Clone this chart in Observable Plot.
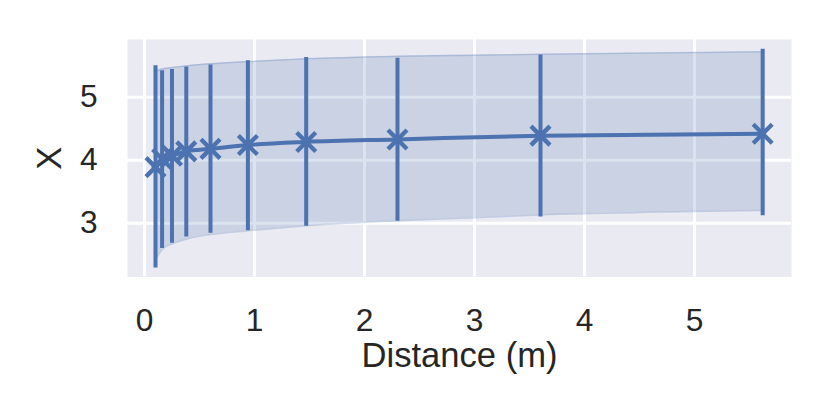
<!DOCTYPE html>
<html>
<head>
<meta charset="utf-8">
<script src="https://cdn.jsdelivr.net/npm/d3@7"></script>
<script src="https://cdn.jsdelivr.net/npm/@observablehq/plot@0.6"></script>
<style>
  html, body { margin: 0; padding: 0; background: #ffffff; }
  #chart { width: 830px; height: 415px; }
</style>
</head>
<body>
<div id="chart"></div>
<script>
// Measurement points (distance in m)
const distances = [0.10, 0.16, 0.25, 0.38, 0.60, 0.94, 1.47, 2.30, 3.60, 5.62];
const means     = [3.89, 4.02, 4.07, 4.14, 4.18, 4.24, 4.29, 4.33, 4.39, 4.42];
const errLow    = [2.29, 2.60, 2.68, 2.78, 2.84, 2.88, 2.95, 3.03, 3.10, 3.12];
const errHigh   = [5.50, 5.42, 5.44, 5.48, 5.51, 5.58, 5.63, 5.62, 5.67, 5.76];

// Shaded band
const bandX     = [0.115, 0.16, 0.25, 0.39, 0.60, 0.94, 1.47, 2.30, 3.60, 5.62];
const bandLow   = [2.46, 2.58, 2.67, 2.75, 2.82, 2.88, 2.96, 3.04, 3.13, 3.20];
const bandHigh  = [5.42, 5.45, 5.47, 5.50, 5.53, 5.565, 5.61, 5.65, 5.68, 5.72];

const xTicks = [0, 1, 2, 3, 4, 5];
const yTicks = [3, 4, 5];
const xLabel = "Distance (m)";
const yLabel = "X";

const points = distances.map((d, i) => ({x: d, y: means[i], lo: errLow[i], hi: errHigh[i]}));
const band = bandX.map((d, i) => ({x: d, lo: bandLow[i], hi: bandHigh[i]}));

const blue = "#4c72b0";
const ink = "#262626";

const chart = Plot.plot({
  width: 830,
  height: 415,
  marginLeft: 127,
  marginRight: 39,
  marginTop: 39,
  marginBottom: 138.5,
  style: {fontFamily: "'Liberation Sans', Arial, sans-serif", fontSize: "31.7px", color: ink, background: "#ffffff"},
  x: {domain: [-0.1545, 5.882]},
  y: {domain: [2.146, 5.916]},
  marks: [
    Plot.frame({fill: "#eaeaf2", stroke: null}),
    Plot.gridX(xTicks, {stroke: "#ffffff", strokeOpacity: 1, strokeWidth: 3}),
    Plot.gridY(yTicks, {stroke: "#ffffff", strokeOpacity: 1, strokeWidth: 3}),
    Plot.areaY(band, {x: "x", y1: "lo", y2: "hi", curve: "monotone-x", fill: blue, fillOpacity: 0.2}),
    Plot.lineY(band, {x: "x", y: "hi", curve: "monotone-x", stroke: blue, strokeOpacity: 0.25, strokeWidth: 1.5}),
    Plot.lineY(band, {x: "x", y: "lo", curve: "monotone-x", stroke: blue, strokeOpacity: 0.25, strokeWidth: 1.5}),
    Plot.ruleX(points, {x: "x", y1: "lo", y2: "hi", stroke: blue, strokeWidth: 4}),
    Plot.lineY(points, {x: "x", y: "y", curve: "monotone-x", stroke: blue, strokeWidth: 4}),
    Plot.dot(points, {x: "x", y: "y", symbol: "times", r: 8.7, stroke: blue, strokeWidth: 4.3}),
    Plot.axisX(xTicks, {tickSize: 0, tickPadding: 31, label: null, fontSize: 31.7, tickFormat: d3.format("d")}),
    Plot.axisY(yTicks, {tickSize: 0, tickPadding: 30, label: null, fontSize: 31.7, tickFormat: d3.format("d")}),
    Plot.text([xLabel], {frameAnchor: "bottom", dy: 79, lineAnchor: "middle", textAnchor: "middle", text: d => d, fontSize: 34.6, fill: ink}),
    Plot.text([yLabel], {frameAnchor: "left", dx: -78, rotate: -90, lineAnchor: "middle", textAnchor: "middle", text: d => d, fontSize: 34.6, fill: ink})
  ]
});
document.getElementById("chart").appendChild(chart);
</script>
</body>
</html>
